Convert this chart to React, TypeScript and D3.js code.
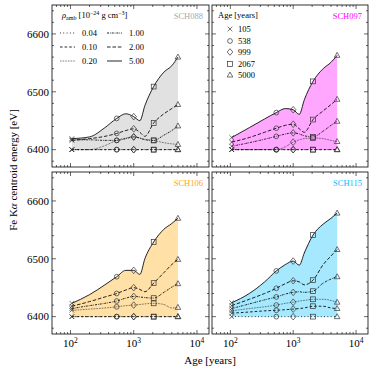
import React from "react";
import * as d3 from "d3";

const AGES = [105, 200, 350, 538, 750, 999, 1250, 1500, 2067, 3000, 4000, 5000];
const MARKER_AGES = [105, 538, 999, 2067, 5000];
const DENSITIES = ["0.04", "0.10", "0.20", "1.00", "2.00", "5.00"];
const X_TICK_EXPONENTS = [2, 3, 4];
const Y_TICKS = [6400, 6500, 6600];
const PANEL_NAMES = ["SCH088", "SCH097", "SCH106", "SCH115"];
const PANEL_COLORS = ["darkgray", "magenta", "orange", "deepskyblue"];

// rows: densities 0.04, 0.10, 0.20, 1.00, 2.00, 5.00 ; columns: AGES
const SCH088 = [
  [6400, 6400, 6400, 6400, 6400, 6400, 6400, 6400, 6400, 6400, 6400, 6400],
  [6400, 6400, 6400, 6400, 6400, 6400, 6400, 6400, 6400, 6400, 6400, 6400],
  [6400, 6400, 6407, 6416, 6420, 6422, 6420, 6418, 6416, 6412, 6410, 6409],
  [6417, 6417, 6416, 6416, 6419, 6422, 6420, 6417, 6416, 6425, 6433, 6441],
  [6416, 6419, 6423, 6428, 6433, 6436, 6430, 6423, 6446, 6462, 6471, 6478],
  [6419, 6422, 6438, 6454, 6462, 6457, 6450, 6476, 6509, 6534, 6545, 6560],
];
const SCH097 = [
  [6400, 6400, 6400, 6400, 6400, 6400, 6400, 6400, 6400, 6400, 6400, 6400],
  [6400, 6400, 6400, 6400, 6400, 6400, 6400, 6400, 6400, 6400, 6400, 6400],
  [6400, 6400, 6400, 6400, 6405, 6413, 6417, 6419, 6420, 6419, 6416, 6414],
  [6406, 6412, 6418, 6423, 6427, 6429, 6427, 6424, 6422, 6432, 6442, 6449],
  [6413, 6421, 6430, 6437, 6442, 6444, 6436, 6430, 6452, 6467, 6478, 6487],
  [6421, 6438, 6453, 6464, 6471, 6469, 6461, 6486, 6518, 6540, 6551, 6563],
];
const SCH106 = [
  [6400, 6400, 6400, 6400, 6400, 6400, 6400, 6400, 6400, 6400, 6400, 6400],
  [6400, 6400, 6400, 6400, 6400, 6400, 6400, 6400, 6400, 6400, 6400, 6400],
  [6411, 6413, 6415, 6417, 6419, 6420, 6421, 6422, 6423, 6421, 6415, 6416],
  [6414, 6419, 6423, 6427, 6432, 6435, 6434, 6433, 6432, 6442, 6451, 6457],
  [6418, 6426, 6434, 6440, 6446, 6450, 6447, 6443, 6458, 6476, 6490, 6499],
  [6423, 6438, 6455, 6469, 6480, 6480, 6473, 6500, 6529, 6551, 6561, 6570],
];
const SCH115 = [
  [6400, 6400, 6400, 6400, 6400, 6400, 6400, 6400, 6400, 6400, 6400, 6400],
  [6406, 6408, 6410, 6411, 6412, 6413, 6414, 6415, 6418, 6418, 6415, 6414],
  [6410, 6414, 6417, 6420, 6423, 6425, 6427, 6428, 6430, 6430, 6428, 6425],
  [6414, 6422, 6429, 6434, 6439, 6442, 6443, 6442, 6444, 6458, 6465, 6469],
  [6419, 6430, 6440, 6449, 6457, 6462, 6460, 6455, 6463, 6490, 6505, 6516],
  [6424, 6440, 6460, 6479, 6490, 6496, 6489, 6510, 6541, 6560, 6570, 6579],
];
const PANEL_DATA = [SCH088, SCH097, SCH106, SCH115];

const DASHES = ["0.9,2.4", "2.6,2", "0.7,0.9", "2,1,0.7,1", "3.6,1.8", null];
const MARKERS = ["x", "circle", "diamond", "square", "triangle"];

const FONT = "'Liberation Serif', 'DejaVu Serif', serif";
const COLS = [[52, 209], [212, 368]];
const ROWS = [[5, 167], [172, 334]];
const X_DOMAIN = [51, 15500];
const Y_DOMAIN = [6370, 6650];

function Marker({ type, x, y }: { type: string; x: number; y: number }) {
  const st = { fill: "none", stroke: "#333", strokeWidth: 0.7 };
  if (type === "x") {
    const s = 2.3;
    return <path d={`M${x - s},${y - s}L${x + s},${y + s}M${x - s},${y + s}L${x + s},${y - s}`} {...st} />;
  }
  if (type === "circle") return <circle cx={x} cy={y} r={2.4} {...st} />;
  if (type === "diamond")
    return <path d={`M${x},${y - 3.3}L${x + 2.8},${y}L${x},${y + 3.3}L${x - 2.8},${y}Z`} {...st} />;
  if (type === "square") return <rect x={x - 2.4} y={y - 2.4} width={4.8} height={4.8} {...st} />;
  return <path d={`M${x},${y - 3}L${x + 2.8},${y + 2}L${x - 2.8},${y + 2}Z`} {...st} />;
}

function Panel({ idx }: { idx: number }) {
  const col = idx % 2;
  const row = Math.floor(idx / 2);
  const [x0, x1] = COLS[col];
  const [y0, y1] = ROWS[row];
  const x = d3.scaleLog().domain(X_DOMAIN).range([x0, x1]);
  const y = d3.scaleLinear().domain(Y_DOMAIN).range([y1, y0]);
  const data = PANEL_DATA[idx];
  const color = PANEL_COLORS[idx];
  const top = data[data.length - 1];
  const lower = AGES.map((_, i) => d3.min(data, (s) => s[i]) as number);
  const area = d3
    .area<number>()
    .x((_, i) => x(AGES[i]))
    .y0((_, i) => y(lower[i]))
    .y1((d) => y(d))
    .curve(d3.curveMonotoneX);
  const line = d3
    .line<number>()
    .x((_, i) => x(AGES[i]))
    .y((d) => y(d))
    .curve(d3.curveMonotoneX);

  const xTicks: { v: number; major: boolean }[] = [];
  for (let e = 1; e <= 4; e++)
    for (let k = 1; k <= 9; k++) {
      const v = k * Math.pow(10, e);
      if (v >= X_DOMAIN[0] && v <= X_DOMAIN[1]) xTicks.push({ v, major: k === 1 });
    }
  const yTicks: { v: number; major: boolean }[] = [];
  for (let v = 6380; v <= 6640; v += 20) yTicks.push({ v, major: v % 100 === 0 });

  return (
    <g>
      <path d={area(top) || ""} fill={color} fillOpacity={0.35} stroke="none" />
      {data.map((s, si) => (
        <path
          key={si}
          d={line(s) || ""}
          fill="none"
          stroke="#000"
          strokeWidth={si === 2 ? 0.7 : 0.85}
          strokeDasharray={DASHES[si] || undefined}
        />
      ))}
      {data.map((s, si) =>
        MARKER_AGES.map((a, mi) => {
          const i = AGES.indexOf(a);
          return <Marker key={`${si}-${mi}`} type={MARKERS[mi]} x={x(a)} y={y(s[i])} />;
        })
      )}
      <rect x={x0} y={y0} width={x1 - x0} height={y1 - y0} fill="none" stroke="#000" strokeWidth={0.8} />
      {xTicks.map((t, i) => {
        const len = t.major ? 4 : 2;
        const px = x(t.v);
        return (
          <g key={`xt${i}`} stroke="#000" strokeWidth={0.6}>
            <line x1={px} x2={px} y1={y1} y2={y1 - len} />
            <line x1={px} x2={px} y1={y0} y2={y0 + len} />
          </g>
        );
      })}
      {yTicks.map((t, i) => {
        const len = t.major ? 4 : 2;
        const py = y(t.v);
        return (
          <g key={`yt${i}`} stroke="#000" strokeWidth={0.6}>
            <line x1={x0} x2={x0 + len} y1={py} y2={py} />
            <line x1={x1} x2={x1 - len} y1={py} y2={py} />
          </g>
        );
      })}
      {col === 0 &&
        Y_TICKS.map((v) => (
          <text key={`yl${v}`} x={x0 - 3} y={y(v) + 3.8} textAnchor="end" fontSize={11} fontFamily={FONT}>
            {v}
          </text>
        ))}
      {row === 1 &&
        X_TICK_EXPONENTS.map((e) => (
          <text key={`xl${e}`} x={x(Math.pow(10, e))} y={347} textAnchor="middle" fontSize={11} fontFamily={FONT}>
            10<tspan fontSize={7.5} dy={-4.5}>{e}</tspan>
          </text>
        ))}
      <text x={x1 - 6} y={y0 + 14} textAnchor="end" fontSize={8.5} fontFamily={FONT} fill={color}>
        {PANEL_NAMES[idx]}
      </text>
    </g>
  );
}

function DensityLegend() {
  const rowsY = [33, 47, 61];
  return (
    <g fontFamily={FONT} fontSize={8.5}>
      <text x={62} y={18}>
        <tspan fontStyle="italic">ρ</tspan>
        <tspan fontSize={6} dy={1.5}>amb</tspan>
        <tspan dy={-1.5}> [10</tspan>
        <tspan fontSize={6} dy={-3.5}>−24</tspan>
        <tspan dy={3.5}> g cm</tspan>
        <tspan fontSize={6} dy={-3.5}>−3</tspan>
        <tspan dy={3.5}>]</tspan>
      </text>
      {DENSITIES.map((d, i) => {
        const c = Math.floor(i / 3);
        const r = i % 3;
        const lx = c === 0 ? 60 : 107;
        const tx = c === 0 ? 82 : 129;
        const yy = rowsY[r];
        return (
          <g key={d}>
            <line
              x1={lx}
              x2={lx + 15}
              y1={yy}
              y2={yy}
              stroke="#000"
              strokeWidth={i === 2 ? 0.7 : 0.85}
              strokeDasharray={DASHES[i] || undefined}
            />
            <text x={tx} y={yy + 3}>{d}</text>
          </g>
        );
      })}
    </g>
  );
}

function AgeLegend() {
  const rowsY = [29, 41, 52, 64, 75];
  return (
    <g fontFamily={FONT} fontSize={8.5}>
      <text x={218} y={18}>Age [years]</text>
      {MARKER_AGES.map((a, i) => (
        <g key={a}>
          <Marker type={MARKERS[i]} x={230} y={rowsY[i]} />
          <text x={238} y={rowsY[i] + 3}>{a}</text>
        </g>
      ))}
    </g>
  );
}

export default function App() {
  return (
    <svg width={372} height={372} style={{ position: "absolute", left: 0, top: 0, background: "#fff" }}>
      {[0, 1, 2, 3].map((i) => (
        <Panel key={i} idx={i} />
      ))}
      <DensityLegend />
      <AgeLegend />
      <text
        transform="translate(17,170) rotate(-90)"
        textAnchor="middle"
        fontSize={11}
        fontFamily={FONT}
      >
        Fe K<tspan fontStyle="italic">α</tspan> centroid energy [eV]
      </text>
      <text x={210} y={364} textAnchor="middle" fontSize={11} fontFamily={FONT}>
        Age [years]
      </text>
    </svg>
  );
}
